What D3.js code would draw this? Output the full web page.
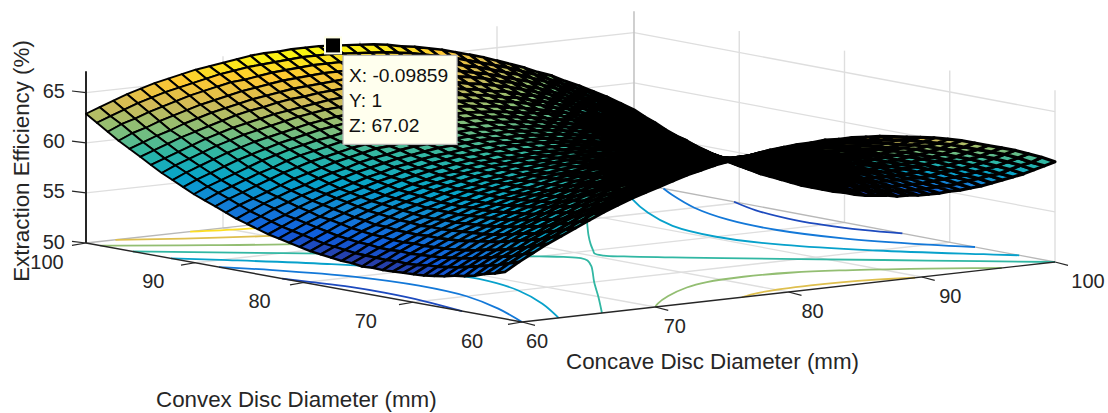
<!DOCTYPE html>
<html><head><meta charset="utf-8">
<script src="https://cdn.jsdelivr.net/npm/d3@7"></script>
<style>html,body{margin:0;background:#fff}svg{display:block}text{font-family:"Liberation Sans",Arial,sans-serif;fill:#262626}</style>
</head><body><div id="c"></div>
<script>
const concaveTicks=[60,70,80,90,100];
const convexTicks=[60,70,80,90,100];
const zTicks=[50,55,60,65];
const zLabel="Extraction Efficiency (%)",concaveLabel="Concave Disc Diameter (mm)",convexLabel="Convex Disc Diameter (mm)";
const tipPoint={concave:78.03,convex:100,z:67.02};
const tipLines=["X: -0.09859","Y: 1","Z: 67.02"];
// Surface heights read by eye: estimated from the silhouette and the floor contour crossings.
// Rows run convex 60..100 mm, columns concave 60..100 mm, 1 mm apart.
const zRows=[
[56.0,56.8,57.5,58.2,58.8,59.4,60.0,60.6,61.1,61.6,62.0,62.4,62.8,63.2,63.5,63.8,64.0,64.2,64.4,64.6,64.7,64.8,64.8,64.9,64.8,64.8,64.7,64.6,64.4,64.2,64.0,63.8,63.5,63.2,62.8,62.4,62.0,61.6,61.1,60.6,60.0],
[55.6,56.4,57.1,57.8,58.4,59.0,59.6,60.2,60.7,61.1,61.6,62.0,62.4,62.7,63.0,63.3,63.6,63.8,63.9,64.1,64.2,64.3,64.3,64.3,64.3,64.3,64.2,64.0,63.9,63.7,63.5,63.2,62.9,62.6,62.2,61.8,61.4,61.0,60.5,59.9,59.4],
[55.3,56.0,56.7,57.4,58.0,58.6,59.2,59.8,60.3,60.7,61.2,61.6,62.0,62.3,62.6,62.9,63.1,63.3,63.5,63.6,63.7,63.8,63.8,63.8,63.8,63.7,63.7,63.5,63.4,63.2,62.9,62.7,62.4,62.0,61.7,61.3,60.8,60.4,59.9,59.4,58.8],
[54.9,55.7,56.4,57.0,57.7,58.3,58.9,59.4,59.9,60.3,60.8,61.2,61.5,61.9,62.2,62.4,62.7,62.9,63.0,63.2,63.3,63.3,63.4,63.4,63.3,63.3,63.2,63.0,62.9,62.7,62.4,62.2,61.9,61.5,61.1,60.7,60.3,59.8,59.3,58.8,58.2],
[54.6,55.4,56.1,56.7,57.4,57.9,58.5,59.0,59.5,60.0,60.4,60.8,61.2,61.5,61.8,62.1,62.3,62.5,62.6,62.8,62.9,62.9,63.0,63.0,62.9,62.8,62.8,62.6,62.4,62.2,62.0,61.7,61.4,61.0,60.6,60.2,59.8,59.3,58.8,58.2,57.7],
[54.4,55.1,55.8,56.4,57.1,57.7,58.2,58.7,59.2,59.7,60.1,60.5,60.8,61.2,61.5,61.7,61.9,62.1,62.3,62.4,62.5,62.5,62.5,62.5,62.5,62.4,62.3,62.1,62.0,61.7,61.5,61.2,60.9,60.6,60.2,59.8,59.3,58.8,58.3,57.8,57.2],
[54.1,54.8,55.5,56.2,56.8,57.4,58.0,58.5,59.0,59.4,59.8,60.2,60.6,60.9,61.2,61.4,61.6,61.8,62.0,62.1,62.1,62.2,62.2,62.1,62.1,62.0,61.9,61.7,61.5,61.3,61.1,60.8,60.5,60.1,59.7,59.3,58.8,58.4,57.8,57.3,56.7],
[53.9,54.6,55.3,55.9,56.6,57.1,57.7,58.2,58.7,59.2,59.6,60.0,60.3,60.6,60.9,61.1,61.3,61.5,61.7,61.8,61.8,61.9,61.9,61.8,61.8,61.7,61.5,61.4,61.2,61.0,60.7,60.4,60.1,59.7,59.3,58.9,58.5,58.0,57.4,56.9,56.2],
[53.7,54.4,55.1,55.7,56.4,56.9,57.5,58.0,58.4,58.9,59.3,59.7,60.0,60.3,60.6,60.8,61.0,61.2,61.3,61.4,61.5,61.5,61.5,61.5,61.4,61.3,61.2,61.0,60.8,60.6,60.3,60.0,59.7,59.3,58.9,58.5,58.0,57.5,57.0,56.4,55.8],
[53.6,54.3,54.9,55.5,56.2,56.7,57.3,57.8,58.2,58.7,59.0,59.4,59.8,60.1,60.3,60.6,60.8,60.9,61.0,61.1,61.2,61.2,61.2,61.2,61.1,61.0,60.9,60.7,60.5,60.2,60.0,59.7,59.3,59.0,58.6,58.1,57.6,57.1,56.6,56.0,55.4],
[53.5,54.1,54.8,55.4,56.0,56.6,57.1,57.6,58.1,58.5,58.9,59.2,59.6,59.9,60.1,60.3,60.5,60.7,60.8,60.9,61.0,61.0,61.0,60.9,60.8,60.7,60.6,60.4,60.2,60.0,59.7,59.4,59.0,58.6,58.2,57.8,57.3,56.8,56.2,55.7,55.1],
[53.4,54.0,54.7,55.3,55.9,56.5,57.0,57.5,57.9,58.4,58.7,59.1,59.4,59.7,59.9,60.2,60.3,60.5,60.6,60.7,60.7,60.8,60.7,60.7,60.6,60.5,60.3,60.2,59.9,59.7,59.4,59.1,58.7,58.3,57.9,57.5,57.0,56.5,55.9,55.3,54.7],
[53.3,54.0,54.6,55.2,55.8,56.4,56.9,57.4,57.8,58.2,58.6,58.9,59.2,59.5,59.8,60.0,60.2,60.3,60.4,60.5,60.5,60.6,60.5,60.5,60.4,60.3,60.1,59.9,59.7,59.4,59.1,58.8,58.5,58.1,57.6,57.2,56.7,56.2,55.6,55.0,54.4],
[53.3,53.9,54.6,55.2,55.8,56.3,56.8,57.3,57.7,58.1,58.5,58.8,59.1,59.4,59.7,59.9,60.0,60.2,60.3,60.3,60.4,60.4,60.4,60.3,60.2,60.1,59.9,59.7,59.5,59.2,58.9,58.6,58.2,57.8,57.4,56.9,56.4,55.9,55.3,54.7,54.1],
[53.2,53.9,54.5,55.1,55.7,56.3,56.8,57.2,57.7,58.0,58.4,58.7,59.0,59.3,59.6,59.8,59.9,60.1,60.2,60.2,60.3,60.3,60.2,60.2,60.0,59.9,59.7,59.5,59.3,59.0,58.7,58.4,58.0,57.6,57.2,56.7,56.2,55.7,55.1,54.5,53.9],
[53.3,53.9,54.5,55.1,55.7,56.2,56.7,57.2,57.6,58.0,58.4,58.7,59.0,59.3,59.5,59.7,59.8,60.0,60.1,60.1,60.2,60.1,60.1,60.0,59.9,59.8,59.6,59.4,59.2,58.9,58.6,58.2,57.9,57.4,57.0,56.5,56.0,55.5,54.9,54.3,53.6],
[53.3,53.9,54.6,55.2,55.7,56.3,56.7,57.2,57.6,58.0,58.4,58.7,59.0,59.2,59.5,59.6,59.8,59.9,60.0,60.1,60.1,60.1,60.0,59.9,59.8,59.7,59.5,59.3,59.0,58.8,58.4,58.1,57.7,57.3,56.8,56.4,55.8,55.3,54.7,54.1,53.5],
[53.4,54.0,54.6,55.2,55.8,56.3,56.8,57.2,57.6,58.0,58.4,58.7,59.0,59.2,59.4,59.6,59.8,59.9,60.0,60.0,60.0,60.0,60.0,59.9,59.8,59.6,59.4,59.2,58.9,58.7,58.3,58.0,57.6,57.2,56.7,56.2,55.7,55.1,54.6,54.0,53.3],
[53.5,54.1,54.7,55.3,55.8,56.4,56.9,57.3,57.7,58.1,58.4,58.7,59.0,59.2,59.5,59.6,59.8,59.9,60.0,60.0,60.0,60.0,59.9,59.8,59.7,59.6,59.4,59.1,58.9,58.6,58.2,57.9,57.5,57.1,56.6,56.1,55.6,55.0,54.4,53.8,53.1],
[53.6,54.2,54.8,55.4,56.0,56.5,57.0,57.4,57.8,58.2,58.5,58.8,59.1,59.3,59.5,59.7,59.8,59.9,60.0,60.0,60.0,60.0,59.9,59.8,59.7,59.5,59.3,59.1,58.8,58.5,58.2,57.8,57.4,57.0,56.5,56.0,55.5,54.9,54.3,53.7,53.0],
[53.8,54.4,55.0,55.6,56.1,56.6,57.1,57.5,57.9,58.3,58.6,58.9,59.2,59.4,59.6,59.7,59.9,60.0,60.0,60.1,60.1,60.0,60.0,59.9,59.7,59.5,59.3,59.1,58.8,58.5,58.2,57.8,57.4,57.0,56.5,56.0,55.4,54.9,54.3,53.6,53.0],
[54.0,54.6,55.2,55.8,56.3,56.8,57.2,57.6,58.0,58.4,58.7,59.0,59.2,59.5,59.7,59.8,59.9,60.0,60.1,60.1,60.1,60.1,60.0,59.9,59.8,59.6,59.4,59.1,58.8,58.5,58.2,57.8,57.4,56.9,56.5,56.0,55.4,54.8,54.2,53.6,52.9],
[54.2,54.8,55.4,55.9,56.5,57.0,57.4,57.8,58.2,58.6,58.9,59.2,59.4,59.6,59.8,59.9,60.1,60.1,60.2,60.2,60.2,60.2,60.1,60.0,59.8,59.6,59.4,59.2,58.9,58.6,58.2,57.8,57.4,56.9,56.5,56.0,55.4,54.8,54.2,53.6,52.9],
[54.4,55.0,55.6,56.2,56.7,57.2,57.6,58.0,58.4,58.7,59.1,59.3,59.6,59.8,60.0,60.1,60.2,60.3,60.4,60.4,60.4,60.3,60.2,60.1,59.9,59.7,59.5,59.3,59.0,58.6,58.3,57.9,57.5,57.0,56.5,56.0,55.4,54.9,54.2,53.6,52.9],
[54.7,55.3,55.8,56.4,56.9,57.4,57.8,58.2,58.6,58.9,59.3,59.5,59.8,60.0,60.1,60.3,60.4,60.5,60.5,60.5,60.5,60.5,60.3,60.2,60.1,59.9,59.6,59.4,59.1,58.7,58.4,58.0,57.6,57.1,56.6,56.1,55.5,54.9,54.3,53.6,52.9],
[55.0,55.6,56.2,56.7,57.2,57.6,58.1,58.5,58.9,59.2,59.5,59.8,60.0,60.2,60.4,60.5,60.6,60.7,60.7,60.7,60.7,60.6,60.5,60.4,60.2,60.0,59.8,59.5,59.2,58.9,58.5,58.1,57.7,57.2,56.7,56.2,55.6,55.0,54.4,53.7,53.0],
[55.3,55.9,56.5,57.0,57.5,57.9,58.4,58.8,59.1,59.5,59.8,60.0,60.3,60.5,60.6,60.8,60.8,60.9,60.9,60.9,60.9,60.8,60.7,60.6,60.4,60.2,60.0,59.7,59.4,59.0,58.6,58.2,57.8,57.4,56.8,56.3,55.7,55.1,54.5,53.8,53.1],
[55.7,56.3,56.8,57.3,57.8,58.3,58.7,59.1,59.5,59.8,60.1,60.4,60.5,60.7,60.9,61.0,61.1,61.1,61.2,61.1,61.1,61.0,60.9,60.8,60.6,60.4,60.2,59.9,59.6,59.2,58.9,58.4,58.0,57.5,57.0,56.4,55.9,55.2,54.6,53.9,53.2],
[56.1,56.7,57.2,57.7,58.2,58.7,59.1,59.5,59.8,60.1,60.4,60.6,60.9,61.0,61.2,61.3,61.4,61.4,61.4,61.4,61.4,61.3,61.2,61.0,60.9,60.6,60.4,60.1,59.8,59.4,59.0,58.6,58.2,57.7,57.2,56.6,56.0,55.4,54.7,54.0,53.3],
[56.5,57.1,57.6,58.1,58.6,59.0,59.5,59.9,60.2,60.5,60.8,61.0,61.2,61.4,61.5,61.6,61.7,61.7,61.7,61.7,61.7,61.6,61.5,61.3,61.1,60.9,60.6,60.4,60.0,59.7,59.3,58.9,58.4,57.9,57.4,56.8,56.2,55.6,54.9,54.2,53.5],
[56.9,57.5,58.0,58.5,59.0,59.5,59.9,60.3,60.6,60.9,61.1,61.4,61.6,61.7,61.9,62.0,62.0,62.1,62.1,62.0,62.0,61.9,61.8,61.6,61.4,61.2,61.0,60.6,60.3,59.9,59.5,59.1,58.6,58.1,57.6,57.0,56.4,55.8,55.1,54.4,53.7],
[57.4,58.0,58.5,59.0,59.5,59.9,60.3,60.7,61.0,61.3,61.6,61.8,62.0,62.1,62.3,62.4,62.4,62.5,62.4,62.4,62.4,62.3,62.1,62.0,61.7,61.5,61.2,60.9,60.6,60.2,59.8,59.4,58.9,58.4,57.8,57.3,56.7,56.0,55.4,54.7,53.9],
[57.9,58.5,59.0,59.5,60.0,60.4,60.8,61.1,61.4,61.7,62.0,62.2,62.4,62.5,62.7,62.8,62.8,62.8,62.8,62.8,62.7,62.6,62.5,62.3,62.1,61.9,61.6,61.3,60.9,60.6,60.1,59.7,59.2,58.7,58.2,57.6,57.0,56.3,55.6,54.9,54.2],
[58.4,59.0,59.5,60.0,60.5,60.9,61.3,61.6,61.9,62.2,62.5,62.7,62.9,63.0,63.1,63.2,63.3,63.3,63.2,63.2,63.2,63.0,62.9,62.7,62.5,62.2,62.0,61.6,61.3,60.9,60.5,60.1,59.5,59.0,58.5,57.9,57.3,56.6,55.9,55.2,54.5],
[59.0,59.5,60.0,60.5,61.0,61.4,61.8,62.1,62.4,62.7,62.9,63.1,63.3,63.5,63.6,63.7,63.7,63.7,63.7,63.6,63.6,63.5,63.3,63.1,62.9,62.6,62.4,62.0,61.7,61.3,60.9,60.4,60.0,59.4,58.9,58.3,57.6,57.0,56.3,55.6,54.8],
[59.6,60.1,60.6,61.1,61.5,61.9,62.3,62.7,63.0,63.2,63.5,63.7,63.8,64.0,64.1,64.2,64.2,64.2,64.2,64.2,64.1,63.9,63.8,63.6,63.3,63.1,62.8,62.5,62.1,61.7,61.3,60.8,60.3,59.8,59.2,58.6,58.0,57.3,56.6,55.9,55.2],
[60.2,60.7,61.2,61.6,62.1,62.5,62.9,63.2,63.5,63.8,64.0,64.2,64.4,64.5,64.6,64.7,64.8,64.8,64.7,64.7,64.6,64.4,64.3,64.1,63.8,63.6,63.3,62.9,62.6,62.1,61.7,61.2,60.7,60.2,59.6,59.0,58.4,57.7,57.0,56.3,55.5],
[60.8,61.4,61.8,62.3,62.7,63.1,63.5,63.8,64.1,64.4,64.6,64.8,65.0,65.1,65.2,65.3,65.3,65.3,65.3,65.2,65.1,65.0,64.8,64.6,64.3,64.0,63.7,63.4,63.0,62.6,62.2,61.7,61.2,60.6,60.0,59.5,58.8,58.2,57.4,56.7,55.9],
[61.5,62.1,62.5,63.0,63.4,63.8,64.2,64.5,64.8,65.1,65.2,65.4,65.6,65.7,65.8,65.9,65.9,65.9,65.8,65.7,65.6,65.5,65.3,65.1,64.8,64.6,64.2,63.9,63.5,63.1,62.7,62.2,61.7,61.1,60.5,59.9,59.3,58.6,57.9,57.1,56.4],
[62.2,62.7,63.2,63.7,64.1,64.5,64.8,65.1,65.4,65.7,65.9,66.1,66.2,66.3,66.4,66.5,66.5,66.5,66.4,66.3,66.2,66.1,65.9,65.7,65.4,65.1,64.8,64.4,64.0,63.6,63.2,62.7,62.2,61.6,61.0,60.4,59.8,59.1,58.4,57.6,56.8],
[62.9,63.4,63.9,64.4,64.8,65.2,65.5,65.8,66.1,66.3,66.5,66.7,66.9,67.0,67.0,67.1,67.1,67.1,67.0,66.9,66.8,66.7,66.5,66.2,66.0,65.7,65.4,65.0,64.6,64.2,63.7,63.2,62.7,62.1,61.6,60.9,60.3,59.6,58.9,58.1,57.3]
];
const concaveGrid=d3.range(60,101),convexGrid=d3.range(60,101);
// Floor contours: level plus [concave, convex] points.
const contourLevels=[54,54,56,56,58,58,60,60,62,62,64,64,66];
const contourPaths=[
[[60,65.5],[60.8,70],[61.1,74],[61,77],[60.4,80],[60,82]],
[[100,74.5],[99,77],[98.3,82.4],[98.9,87],[100,90.5]],
[[60,60],[62.3,65],[64,70],[64.5,75],[63.8,80],[61.7,85],[60,87.8]],
[[100,67.6],[98.4,70],[96,75],[95,80],[95.3,85],[96.7,90],[98.9,95],[100,97.2]],
[[62.75,60],[65.6,65],[67.85,70],[68.95,75],[68.3,80],[65.75,85],[61.9,90],[60,92.2]],
[[100,63.4],[98.6,65],[94.5,70],[91.6,75],[90.5,80],[91.2,85],[93.3,90],[96,95],[99.1,100]],
[[66,60],[69.8,65],[73.5,70],[75.8,73],[77.3,75],[78.6,77],[78.9,78],[78.4,79],[77.4,80],[75.25,82],[71.9,85],[66.4,90],[60.8,95],[60,95.7]],
[[100,60],[94.4,65],[88.8,70],[85.5,73],[83.3,75],[81.3,77],[80.6,78],[80.7,79],[81.4,80],[82.8,82],[85,85],[88.8,90],[92.6,95],[96.4,100]],
[[70,60],[71,61],[73.4,63],[76.4,65],[78.7,66],[81.75,66.4],[85.1,66],[87.8,65],[91.5,63],[94.6,61],[96,60]],
[[60,98.7],[60.9,98],[65.1,95],[70,92],[75,90],[77.6,89.7],[80.2,90],[84.5,92],[88.3,95],[91.4,98],[93.3,100]],
[[76.5,60],[78.4,60.8],[82.7,61.3],[87.2,60.8],[89.5,60]],
[[62.15,100],[65.6,98],[69.8,96],[72.9,95],[76.2,94.7],[80.5,95],[83.25,96],[86.7,98],[89.4,100]],
[[67.6,100],[70.6,99],[74,98.4],[76.1,98.2],[78,98.4],[81.3,99],[84,100]]
];
const parulaStops=["#352a87","#0f5cdd","#1481d6","#06a4ca","#2eb7a4","#87bf77","#d1bb59","#fec832","#f9fb0e"];

const W=1108,H=413;
const svg=d3.select("#c").append("svg").attr("width",W).attr("height",H);
const F={x:522,y:322},R={x:1055,y:262},L={x:86,y:243},B={x:634,y:183};
const sU=d3.scaleLinear().domain([60,100]).range([0,1]);
const sV=d3.scaleLinear().domain([60,100]).range([0,1]);
const sZ=d3.scaleLinear().domain([50,65]).range([0,150.3]);
const zTop=67.15;
function floor(u,v){const s=sU(u),t=sV(v);return{
 x:(1-s)*(1-t)*F.x+s*(1-t)*R.x+(1-s)*t*L.x+s*t*B.x,
 y:(1-s)*(1-t)*F.y+s*(1-t)*R.y+(1-s)*t*L.y+s*t*B.y};}
function pt(u,v,z){const p=floor(u,v);return[p.x,p.y-sZ(z)];}
// the mesh's nearest corner sits a little off the floor corner in the reference
function meshPt(u,v,z){const p=pt(u,v,z),w=(1-sU(u))*(1-sV(v)),w2=w*w;return[p[0]-17*w2,p[1]+10*w2];}
const colorT=d3.scaleLinear().domain([52.87,67.02]).range([0,1]).clamp(true);
const parula=d3.piecewise(d3.interpolateRgb,parulaStops);
const color=z=>parula(colorT(z));
const ln=(g,a,b,c,w)=>g.append("line").attr("x1",a[0]).attr("y1",a[1]).attr("x2",b[0]).attr("y2",b[1]).attr("stroke",c).attr("stroke-width",w);

const grid=svg.append("g");
const GC="#dedede",EC="#b8b8b8";
// walls
[...concaveTicks.slice(1,4)].forEach(u=>ln(grid,pt(u,100,50),pt(u,100,zTop),GC,1.4));
convexTicks.slice(0,4).forEach(v=>ln(grid,pt(100,v,50),pt(100,v,zTop),GC,1.4));
zTicks.slice(1).forEach(z=>{ln(grid,pt(60,100,z),pt(100,100,z),GC,1.3);ln(grid,pt(100,100,z),pt(100,60,z),GC,1.3);});
// floor
concaveTicks.slice(1,4).forEach(u=>ln(grid,pt(u,60,50),pt(u,100,50),GC,1.3));
convexTicks.slice(1,4).forEach(v=>ln(grid,pt(60,v,50),pt(100,v,50),GC,1.3));
ln(grid,pt(100,100,50),pt(100,100,zTop),"#c4c4c4",1.6);
ln(grid,pt(60,100,50),pt(100,100,50),EC,1.3);
ln(grid,pt(100,100,50),pt(100,60,50),EC,1.3);

// contours
const line2=d3.line().curve(d3.curveCatmullRom.alpha(.5));
svg.append("g").selectAll("path").data(contourPaths).join("path")
 .attr("d",d=>line2(d.map(p=>pt(p[0],p[1],50))))
 .attr("fill","none").attr("stroke-width",1.8).attr("stroke",(d,i)=>color(contourLevels[i]));

// axes
const AC="#262626",ax=svg.append("g");
ln(ax,pt(60,100,50),pt(60,60,50),AC,1.4);
ln(ax,pt(60,60,50),pt(100,60,50),AC,1.4);
ln(ax,pt(60,100,50),pt(60,100,zTop),AC,2);
convexTicks.forEach(v=>{const p=pt(60,v,50);ln(ax,[p[0]-14,p[1]+2.3],p,AC,1.2);});
concaveTicks.forEach(u=>{const p=pt(u,60,50);ln(ax,p,[p[0]+13,p[1]+3.3],AC,1.2);});
zTicks.forEach(z=>{const p=pt(60,100,z);ln(ax,[p[0]-14,p[1]-1.7],p,AC,1.2);});
const tl=svg.append("g").attr("font-size",20);
const offCx=d3.scaleLinear().domain([100,60]).range([-39,-50]);
const offCc=d3.scaleLinear().domain([60,100]).range([15,33]);
tl.selectAll(".a").data(convexTicks).join("text").attr("text-anchor","middle").attr("dominant-baseline","central")
 .attr("x",v=>pt(60,v,50)[0]+offCx(v)).attr("y",v=>pt(60,v,50)[1]+18.5).text(d=>d);
tl.selectAll(".b").data(concaveTicks).join("text").attr("text-anchor","middle").attr("dominant-baseline","central")
 .attr("x",u=>pt(u,60,50)[0]+offCc(u)).attr("y",u=>pt(u,60,50)[1]+19).text(d=>d);
tl.selectAll(".c").data(zTicks).join("text").attr("text-anchor","end").attr("dominant-baseline","central")
 .attr("x",65).attr("y",z=>pt(60,100,z)[1]-1.5).text(d=>d);

// surface, far corner first; line weight grows to the right, where the reference's dense mesh reads almost black
const cells=[];
for(let j=convexGrid.length-2;j>=0;j--)for(let i=concaveGrid.length-2;i>=0;i--)cells.push([i,j]);
const weight=d3.scaleLinear().domain([180,620]).range([1.9,3.1]).clamp(true);
svg.append("g").selectAll("path").data(cells).join("path")
 .attr("d",([i,j])=>"M"+[[i,j],[i+1,j],[i+1,j+1],[i,j+1]].map(([a,b])=>meshPt(concaveGrid[a],convexGrid[b],zRows[b][a])).join("L")+"Z")
 .attr("fill",([i,j])=>color((zRows[j][i]+zRows[j][i+1]+zRows[j+1][i]+zRows[j+1][i+1])/4))
 .attr("stroke","#000").attr("stroke-width",([i,j])=>weight(meshPt(concaveGrid[i],convexGrid[j],zRows[j][i])[0])).attr("stroke-linejoin","round");

// titles
const titles=svg.append("g").attr("font-size",22.35);
titles.append("text").attr("x",566).attr("y",369).text(concaveLabel);
titles.append("text").attr("x",156).attr("y",407).text(convexLabel);
titles.append("text").attr("transform","translate(29,161) rotate(-90)").attr("text-anchor","middle").text(zLabel);

// data tip
const m=pt(tipPoint.concave,tipPoint.convex,tipPoint.z);
svg.append("rect").attr("x",m[0]-8).attr("y",m[1]-8).attr("width",16).attr("height",16).attr("fill","#000").attr("stroke","#ffffe8").attr("stroke-width",2);
const tip=svg.append("g");
tip.append("rect").attr("x",m[0]+10).attr("y",m[1]+10).attr("width",114).attr("height",89).attr("fill","#ffffee").attr("stroke","#b5b5b5").attr("stroke-width",1.3);
tip.selectAll("text").data(tipLines).join("text").attr("x",m[0]+16).attr("y",(d,i)=>m[1]+37+i*25).attr("font-size",19.2).style("fill","#111").text(d=>d);
</script></body></html>
